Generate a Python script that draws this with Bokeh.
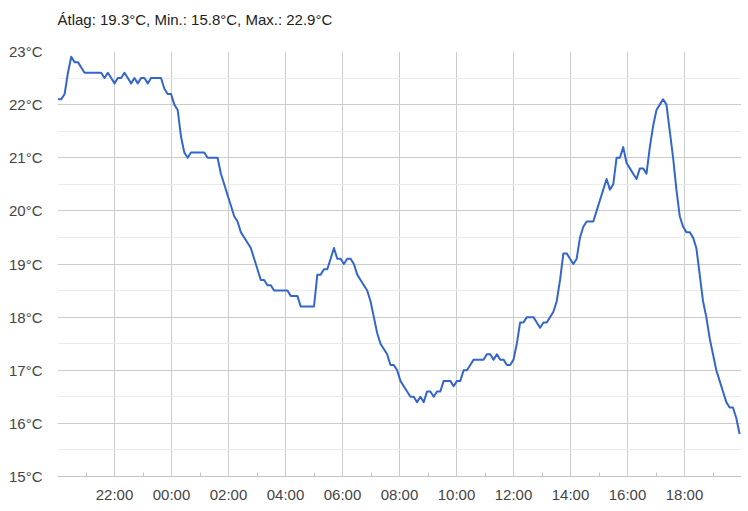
from datetime import datetime, timedelta
from bokeh.plotting import figure
from bokeh.models import (FixedTicker, PrintfTickFormatter, DatetimeTickFormatter,
                          Range1d, ColumnDataSource, Title)
from bokeh.embed import file_html
from bokeh.resources import INLINE

title_text = "Átlag: 19.3°C, Min.: 15.8°C, Max.: 22.9°C"

temps = [
    22.1, 22.1, 22.2, 22.6, 22.9, 22.8, 22.8, 22.7, 22.6, 22.6,
    22.6, 22.6, 22.6, 22.6, 22.5, 22.6, 22.5, 22.4, 22.5, 22.5,
    22.6, 22.5, 22.4, 22.5, 22.4, 22.5, 22.5, 22.4, 22.5, 22.5,
    22.5, 22.5, 22.3, 22.2, 22.2, 22.0, 21.9, 21.4, 21.1, 21.0,
    21.1, 21.1, 21.1, 21.1, 21.1, 21.0, 21.0, 21.0, 21.0, 20.7,
    20.5, 20.3, 20.1, 19.9, 19.8, 19.6, 19.5, 19.4, 19.3, 19.1,
    18.9, 18.7, 18.7, 18.6, 18.6, 18.5, 18.5, 18.5, 18.5, 18.5,
    18.4, 18.4, 18.4, 18.2, 18.2, 18.2, 18.2, 18.2, 18.8, 18.8,
    18.9, 18.9, 19.1, 19.3, 19.1, 19.1, 19.0, 19.1, 19.1, 19.0,
    18.8, 18.7, 18.6, 18.5, 18.3, 18.0, 17.7, 17.5, 17.4, 17.3,
    17.1, 17.1, 17.0, 16.8, 16.7, 16.6, 16.5, 16.5, 16.4, 16.5,
    16.4, 16.6, 16.6, 16.5, 16.6, 16.6, 16.8, 16.8, 16.8, 16.7,
    16.8, 16.8, 17.0, 17.0, 17.1, 17.2, 17.2, 17.2, 17.2, 17.3,
    17.3, 17.2, 17.3, 17.2, 17.2, 17.1, 17.1, 17.2, 17.5, 17.9,
    17.9, 18.0, 18.0, 18.0, 17.9, 17.8, 17.9, 17.9, 18.0, 18.1,
    18.3, 18.7, 19.2, 19.2, 19.1, 19.0, 19.1, 19.5, 19.7, 19.8,
    19.8, 19.8, 20.0, 20.2, 20.4, 20.6, 20.4, 20.5, 21.0, 21.0,
    21.2, 20.9, 20.8, 20.7, 20.6, 20.8, 20.8, 20.7, 21.2, 21.6,
    21.9, 22.0, 22.1, 22.0, 21.5, 21.0, 20.4, 19.9, 19.7,
    19.6, 19.6, 19.5, 19.3, 18.8, 18.3, 18.0, 17.6, 17.3, 17.0,
    16.8, 16.6, 16.4, 16.3, 16.3, 16.1, 15.8,
]

first_sample = datetime(2024, 1, 1, 20, 1)
sample_step_minutes = 7
times = [first_sample + timedelta(minutes=sample_step_minutes * i) for i in range(len(temps))]

range_start = datetime(2024, 1, 1, 20, 0)
range_end = datetime(2024, 1, 2, 20, 0)

major_tick_times = [datetime(2024, 1, 1, 22, 0) + timedelta(hours=2 * i) for i in range(11)]
minor_tick_times = [datetime(2024, 1, 1, 21, 0) + timedelta(hours=2 * i) for i in range(12)]

y_major = [15, 16, 17, 18, 19, 20, 21, 22, 23]
y_minor = [15.5, 16.5, 17.5, 18.5, 19.5, 20.5, 21.5, 22.5]

epoch = datetime(1970, 1, 1)
def to_ms(d):
    return (d - epoch).total_seconds() * 1000.0

FONT = "Liberation Sans"

p = figure(width=741, height=505, output_backend="svg", toolbar_location=None,
           x_axis_type="datetime",
           x_range=Range1d(range_start, range_end), y_range=Range1d(15, 23),
           min_border_left=57, min_border_right=0, min_border_top=51, min_border_bottom=27)
p.outline_line_color = None
p.background_fill_color = "white"
p.border_fill_color = "white"

p.title.text = title_text
p.title.align = "left"
p.title.vertical_align = "bottom"
p.title.standoff = 10
p.title.text_font = FONT
p.title.text_font_size = "15px"
p.title.text_font_style = "normal"
p.title.text_color = "#222222"

# blank spacer between the title and the plot area
spacer = Title(text=" ", text_font_size="1px", standoff=16)
p.add_layout(spacer, "above")

src = ColumnDataSource(dict(t=times, temp=temps))
p.line("t", "temp", source=src, line_color="#3366cc", line_width=2, line_join="round")

# x axis
p.xaxis.ticker = FixedTicker(ticks=[to_ms(d) for d in major_tick_times],
                             minor_ticks=[to_ms(d) for d in minor_tick_times])
p.xaxis.formatter = DatetimeTickFormatter(hours="%H:%M", hourmin="%H:%M", days="%H:%M",
                                          minutes="%H:%M", minsec="%H:%M")
p.xaxis.axis_line_color = "#c4c4c4"
p.xaxis.axis_line_width = 1
p.xaxis.major_tick_line_color = None
p.xaxis.major_tick_in = 0
p.xaxis.major_tick_out = 0
p.xaxis.minor_tick_in = 4
p.xaxis.minor_tick_out = 0
p.xaxis.minor_tick_line_color = "#c4c4c4"
p.xaxis.major_label_text_font = FONT
p.xaxis.major_label_text_font_size = "15px"
p.xaxis.major_label_text_color = "#444444"
p.xaxis.major_label_standoff = 9

# y axis
p.yaxis.ticker = FixedTicker(ticks=y_major, minor_ticks=y_minor)
p.yaxis.formatter = PrintfTickFormatter(format="%d°C")
p.yaxis.axis_line_color = None
p.yaxis.major_tick_line_color = None
p.yaxis.minor_tick_line_color = None
p.yaxis.major_tick_in = 0
p.yaxis.major_tick_out = 0
p.yaxis.minor_tick_in = 0
p.yaxis.minor_tick_out = 0
p.yaxis.major_label_text_font = FONT
p.yaxis.major_label_text_font_size = "15px"
p.yaxis.major_label_text_color = "#444444"
p.yaxis.major_label_standoff = 15

# grids
p.xgrid.grid_line_color = "#cccccc"
p.ygrid.grid_line_color = "#cccccc"
p.ygrid.minor_grid_line_color = "#ebebeb"

open("out.html", "w").write(file_html(p, INLINE))
